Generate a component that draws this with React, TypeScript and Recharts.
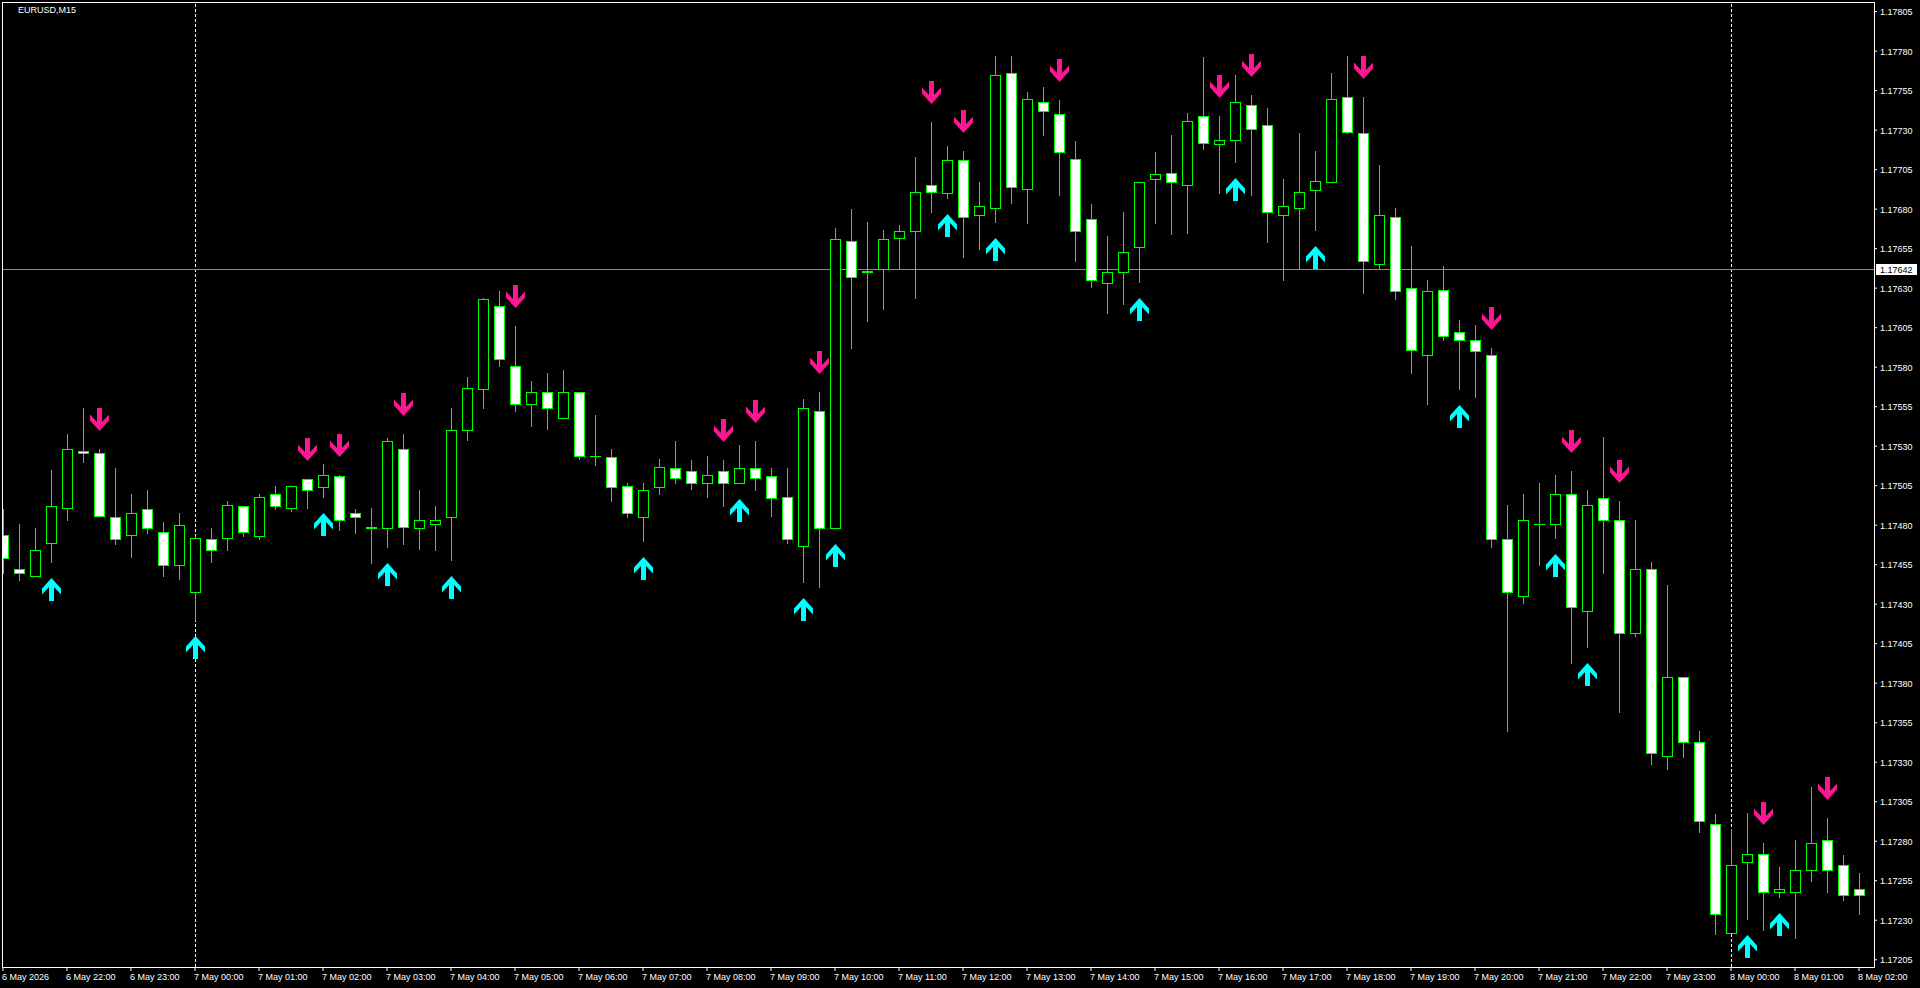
import React from 'react';
import { ComposedChart, Bar, Scatter, XAxis, YAxis, ReferenceLine } from 'recharts';

// EURUSD M15, first bar = 6 May 21:00
const opens = [
  1.17474, 1.17452, 1.17448, 1.17469, 1.17491, 1.17527, 1.17526, 1.17485, 1.17474, 1.1749,
  1.17476, 1.17455, 1.17438, 1.17471, 1.17472, 1.17492, 1.17473, 1.175, 1.17491, 1.17509,
  1.17504, 1.17511, 1.17488, 1.17479, 1.17478, 1.17528, 1.17478, 1.17481, 1.17485, 1.1754,
  1.17566, 1.17619, 1.17581, 1.17557, 1.17564, 1.17548, 1.17564, 1.17524, 1.17523, 1.17505,
  1.17485, 1.17504, 1.17516, 1.17514, 1.17507, 1.17514, 1.17507, 1.17516, 1.17511, 1.17498,
  1.17467, 1.17552, 1.17478, 1.1766, 1.17641, 1.17642, 1.17662, 1.17666, 1.17695, 1.1769,
  1.17711, 1.17676, 1.17681, 1.17766, 1.17693, 1.17748, 1.1774, 1.17712, 1.17674, 1.17633,
  1.1764, 1.17656, 1.17699, 1.17703, 1.17695, 1.17739, 1.17721, 1.17724, 1.17746, 1.17733,
  1.17676, 1.17681, 1.17692, 1.17697, 1.17751, 1.17728, 1.17645, 1.17675, 1.1763, 1.17588,
  1.17629, 1.17602, 1.17597, 1.17588, 1.17471, 1.17435, 1.17481, 1.17481, 1.175, 1.17426,
  1.17497, 1.17483, 1.17412, 1.17452, 1.17334, 1.17384, 1.17343, 1.17291, 1.17222, 1.17267,
  1.17272, 1.17248, 1.17248, 1.17262, 1.17281, 1.17265, 1.1725,
];
const highs = [
  1.1749, 1.17481, 1.17478, 1.17515, 1.17538, 1.17554, 1.17528, 1.17516, 1.175, 1.17502,
  1.17482, 1.17488, 1.17473, 1.17478, 1.17495, 1.17492, 1.175, 1.17505, 1.17505, 1.17509,
  1.17519, 1.17512, 1.1749, 1.17491, 1.17535, 1.17538, 1.17502, 1.17492, 1.17554, 1.17574,
  1.17624, 1.17628, 1.17606, 1.17571, 1.17576, 1.17578, 1.17564, 1.1755, 1.17528, 1.17507,
  1.17507, 1.17522, 1.17533, 1.17521, 1.17524, 1.17521, 1.17531, 1.17533, 1.17516, 1.17516,
  1.1756, 1.17564, 1.17668, 1.1768, 1.17672, 1.17667, 1.1767, 1.17713, 1.17735, 1.1772,
  1.17717, 1.17697, 1.17777, 1.17777, 1.17754, 1.17757, 1.17749, 1.17723, 1.17683, 1.17663,
  1.17678, 1.17697, 1.17716, 1.17727, 1.17741, 1.17776, 1.17739, 1.17765, 1.17752, 1.17744,
  1.17699, 1.17728, 1.17717, 1.17766, 1.17777, 1.17751, 1.17708, 1.17681, 1.17657, 1.17635,
  1.17644, 1.1761, 1.17607, 1.17592, 1.17493, 1.175, 1.17507, 1.17512, 1.17514, 1.17502,
  1.17536, 1.17495, 1.17483, 1.17457, 1.17442, 1.17384, 1.1735, 1.17297, 1.17288, 1.17298,
  1.17279, 1.17264, 1.17281, 1.17314, 1.17295, 1.17271, 1.1726,
];
const lows = [
  1.1745, 1.17445, 1.17448, 1.17457, 1.17483, 1.1752, 1.17486, 1.17468, 1.1746, 1.17475,
  1.17448, 1.17446, 1.1742, 1.17457, 1.17464, 1.17473, 1.17471, 1.1749, 1.17489, 1.17491,
  1.17498, 1.17477, 1.17475, 1.17456, 1.17466, 1.17468, 1.17465, 1.17464, 1.17458, 1.17534,
  1.17554, 1.17581, 1.17552, 1.17543, 1.17541, 1.17548, 1.17522, 1.17518, 1.17495, 1.17485,
  1.1747, 1.175, 1.17507, 1.17503, 1.17498, 1.17492, 1.17507, 1.17502, 1.17486, 1.17469,
  1.17444, 1.17441, 1.17478, 1.17592, 1.17609, 1.17617, 1.17643, 1.17624, 1.17678, 1.17687,
  1.1765, 1.17655, 1.17672, 1.17684, 1.17671, 1.17727, 1.17689, 1.17647, 1.17631, 1.17614,
  1.1762, 1.17634, 1.17671, 1.17664, 1.17665, 1.17718, 1.1769, 1.1771, 1.17689, 1.17659,
  1.17635, 1.17642, 1.17667, 1.17697, 1.17728, 1.17627, 1.17642, 1.17623, 1.17576, 1.17557,
  1.17597, 1.17566, 1.17561, 1.17466, 1.1735, 1.17431, 1.17455, 1.17472, 1.17393, 1.17403,
  1.1745, 1.17362, 1.1741, 1.17329, 1.17326, 1.17333, 1.17286, 1.17221, 1.17222, 1.17231,
  1.17224, 1.17245, 1.17219, 1.17255, 1.17248, 1.17243, 1.17234,
];
const closes = [
  1.17459, 1.1745, 1.17464, 1.17492, 1.17528, 1.17526, 1.17486, 1.17471, 1.17488, 1.17478,
  1.17455, 1.1748, 1.17472, 1.17464, 1.17493, 1.17476, 1.17498, 1.17492, 1.17505, 1.17502,
  1.17512, 1.17483, 1.17485, 1.17478, 1.17533, 1.17479, 1.17483, 1.17483, 1.1754, 1.17567,
  1.17623, 1.17585, 1.17557, 1.17564, 1.17554, 1.17564, 1.17524, 1.17524, 1.17504, 1.17488,
  1.17502, 1.17517, 1.1751, 1.17507, 1.17512, 1.17507, 1.17516, 1.1751, 1.17497, 1.17471,
  1.17554, 1.17478, 1.17661, 1.17637, 1.1764, 1.17661, 1.17666, 1.17691, 1.17691, 1.17711,
  1.17675, 1.17682, 1.17765, 1.17694, 1.1775, 1.17742, 1.17716, 1.17666, 1.17635, 1.1764,
  1.17653, 1.17697, 1.17702, 1.17697, 1.17736, 1.17722, 1.17724, 1.17748, 1.17731, 1.17678,
  1.17682, 1.17691, 1.17698, 1.1775, 1.17729, 1.17647, 1.17676, 1.17628, 1.17591, 1.17628,
  1.176, 1.17597, 1.1759, 1.17471, 1.17438, 1.17483, 1.17481, 1.175, 1.17428, 1.17493,
  1.17483, 1.17412, 1.17452, 1.17336, 1.17384, 1.17343, 1.17293, 1.17234, 1.17265, 1.17272,
  1.17248, 1.1725, 1.17262, 1.17279, 1.17262, 1.17246, 1.17246,
];

// bar indexes carrying the indicator arrows
const upSignals = [3, 12, 20, 24, 28, 40, 46, 50, 52, 59, 62, 71, 77, 82, 91, 97, 99, 109, 111];
const downSignals = [6, 19, 21, 25, 32, 45, 47, 51, 58, 60, 66, 76, 78, 85, 93, 98, 101, 110, 114];

const xTicks = [0, 4, 8, 12, 16, 20, 24, 28, 32, 36, 40, 44, 48, 52, 56, 60, 64, 68, 72, 76, 80, 84, 88, 92, 96, 100, 104, 108, 112, 116];
const xTickLabels = [
  '6 May 2026', '6 May 22:00', '6 May 23:00',
  '7 May 00:00', '7 May 01:00', '7 May 02:00', '7 May 03:00', '7 May 04:00', '7 May 05:00',
  '7 May 06:00', '7 May 07:00', '7 May 08:00', '7 May 09:00', '7 May 10:00', '7 May 11:00',
  '7 May 12:00', '7 May 13:00', '7 May 14:00', '7 May 15:00', '7 May 16:00', '7 May 17:00',
  '7 May 18:00', '7 May 19:00', '7 May 20:00', '7 May 21:00', '7 May 22:00', '7 May 23:00',
  '8 May 00:00', '8 May 01:00', '8 May 02:00',
];
const yTicks = [
  1.17205, 1.1723, 1.17255, 1.1728, 1.17305, 1.1733, 1.17355, 1.1738, 1.17405, 1.1743,
  1.17455, 1.1748, 1.17505, 1.1753, 1.17555, 1.1758, 1.17605, 1.1763, 1.17655, 1.1768,
  1.17705, 1.1773, 1.17755, 1.1778, 1.17805,
];
const bidPrice = 1.17642;
const daySeparators = [12, 108];

const LIME = '#00ff00';
const FONT = '"Liberation Sans", Arial, sans-serif';

const candles = opens.map((open, i) => ({ i, open, high: highs[i], low: lows[i], close: closes[i] }));
const upData = upSignals.map((i) => ({ i, low: lows[i] }));
const downData = downSignals.map((i) => ({ i, high: highs[i] }));

const Candle = (props: any) => {
  const { x, y, width, height, payload } = props;
  if (x == null || y == null || !payload) return null;
  const cx = Math.round(x + width / 2);
  const top = Math.min(y, y + height);
  const bot = Math.max(y, y + height);
  const { open, high, low, close } = payload;
  const span = high - low;
  const py = (v: number) => (span === 0 ? top : top + ((high - v) / span) * (bot - top));
  const oy = py(open);
  const cy = py(close);
  const bodyTop = Math.round(Math.min(oy, cy));
  const bodyBot = Math.round(Math.max(oy, cy));
  const bull = close >= open;
  return (
    <g>
      <line x1={cx + 0.5} x2={cx + 0.5} y1={Math.round(top)} y2={Math.round(bot) + 1} stroke={LIME} strokeWidth={1} />
      {bodyTop === bodyBot ? (
        <line x1={cx - 5} x2={cx + 6} y1={bodyTop + 0.5} y2={bodyTop + 0.5} stroke={LIME} strokeWidth={1} />
      ) : (
        <rect
          x={cx - 4.5}
          y={bodyTop + 0.5}
          width={10}
          height={bodyBot - bodyTop}
          fill={bull ? '#000000' : '#ffffff'}
          stroke={LIME}
          strokeWidth={1}
        />
      )}
    </g>
  );
};

const UpArrow = (props: any) => {
  const { cx, cy } = props;
  if (cx == null || cy == null) return null;
  const x = Math.round(cx) + 0.5;
  const t = Math.round(cy) + 16;
  const pts = [
    [-2.5, 23], [2.5, 23], [2.5, 9], [9.5, 16.5], [9.5, 10.5], [0, 0], [-9.5, 10.5], [-9.5, 16.5], [-2.5, 9],
  ];
  return <polygon points={pts.map(([a, b]) => `${x + a},${t + b}`).join(' ')} fill="#00ffff" />;
};

const DownArrow = (props: any) => {
  const { cx, cy } = props;
  if (cx == null || cy == null) return null;
  const x = Math.round(cx) + 0.5;
  const t = Math.round(cy) - 41;
  const pts = [
    [-2.5, 0], [2.5, 0], [2.5, 14], [9.5, 6.5], [9.5, 12.5], [0, 23], [-9.5, 12.5], [-9.5, 6.5], [-2.5, 14],
  ];
  return <polygon points={pts.map(([a, b]) => `${x + a},${t + b}`).join(' ')} fill="#ff1493" />;
};

const YTick = (props: any) => {
  const { x, y, payload } = props;
  return (
    <text x={x} y={y + 3.5} fill="#ffffff" fontSize={9} fontFamily={FONT} textAnchor="start">
      {Number(payload.value).toFixed(5)}
    </text>
  );
};

const XTick = (props: any) => {
  const { x, y, payload } = props;
  const idx = xTicks.indexOf(payload.value);
  return (
    <text x={x - 1} y={y + 6.5} fill="#ffffff" fontSize={9} fontFamily={FONT} textAnchor="start">
      {xTickLabels[idx]}
    </text>
  );
};

const BidLabel = (props: any) => {
  const vb = props.viewBox;
  if (!vb) return null;
  const left = vb.x + vb.width + 2;
  const yy = Math.round(vb.y);
  return (
    <g>
      <rect x={left} y={yy - 5} width={41} height={11} fill="#ffffff" />
      <text x={left + 4} y={yy + 4} fill="#000000" fontSize={9} fontFamily={FONT}>
        {bidPrice.toFixed(5)}
      </text>
    </g>
  );
};

export default function App() {
  return (
    <div style={{ position: 'fixed', left: 0, top: 0, width: 1920, height: 988, background: '#000000', overflow: 'hidden' }}>
      <ComposedChart width={1920} height={988} data={candles} margin={{ top: 2, right: 0, bottom: 0, left: 2 }}>
        <XAxis
          dataKey="i"
          type="number"
          domain={[-0.0625, 116.9375]}
          allowDataOverflow
          ticks={xTicks}
          interval={0}
          height={21}
          axisLine={false}
          tickLine={{ stroke: '#ffffff' }}
          tickSize={4}
          tickMargin={2}
          tick={<XTick />}
        />
        <YAxis
          orientation="right"
          type="number"
          domain={[1.172004, 1.178111]}
          allowDataOverflow
          ticks={yTicks}
          interval={0}
          width={46}
          axisLine={false}
          tickLine={{ stroke: '#ffffff' }}
          tickSize={3}
          tickMargin={3}
          tick={<YTick />}
        />
        {daySeparators.map((d) => (
          <ReferenceLine
            key={d}
            x={d}
            zIndex={-1}
            stroke="#ffffff"
            strokeDasharray="3 2"
            shape={(p: any) => (
              <line x1={Math.round(p.x1) + 0.5} x2={Math.round(p.x2) + 0.5} y1={p.y1} y2={p.y2} stroke="#ffffff" strokeWidth={1} strokeDasharray="3 2" />
            )}
          />
        ))}
        <ReferenceLine
          y={bidPrice}
          zIndex={-1}
          stroke="#8c8c8c"
          shape={(p: any) => (
            <line x1={p.x1} x2={p.x2} y1={Math.round(p.y1) + 0.5} y2={Math.round(p.y2) + 0.5} stroke="#8c8c8c" strokeWidth={1} />
          )}
          label={(p: any) => <BidLabel {...p} />}
        />
        <Bar dataKey={(d: any) => [d.low, d.high]} barSize={10} shape={<Candle />} isAnimationActive={false} />
        <Scatter data={upData} dataKey="low" shape={<UpArrow />} isAnimationActive={false} />
        <Scatter data={downData} dataKey="high" shape={<DownArrow />} isAnimationActive={false} />
      </ComposedChart>
      <div
        style={{
          position: 'absolute',
          left: 2,
          top: 2,
          width: 1873,
          height: 966,
          boxSizing: 'border-box',
          border: '1px solid #ffffff',
          pointerEvents: 'none',
        }}
      />
      <div style={{ position: 'absolute', left: 18, top: 5, fontFamily: FONT, fontSize: 9, lineHeight: '11px', color: '#ffffff' }}>
        EURUSD,M15
      </div>
    </div>
  );
}
